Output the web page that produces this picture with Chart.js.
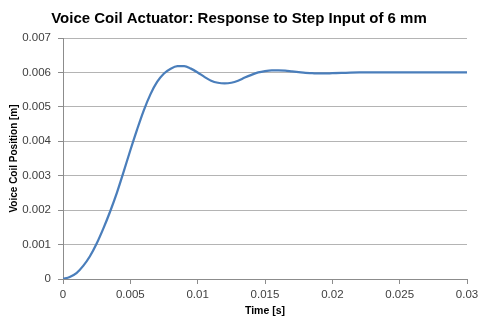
<!DOCTYPE html>
<html>
<head>
<meta charset="utf-8">
<script src="https://cdn.jsdelivr.net/npm/chart.js@4/dist/chart.umd.min.js"></script>
<style>
  html, body { margin: 0; padding: 0; background: #fff; }
  #wrap { width: 478px; height: 320px; }
</style>
</head>
<body>
<div id="wrap"><canvas id="myChart" width="478" height="320"></canvas></div>
<script>
// time in seconds, position in metres
const timeVals = [
  0, 0.0005, 0.001, 0.0015, 0.002, 0.0025, 0.003, 0.0035, 0.004, 0.0045,
  0.005, 0.0055, 0.006, 0.0065, 0.007, 0.0075, 0.008, 0.0085, 0.009, 0.0095,
  0.01, 0.0105, 0.011, 0.0115, 0.012, 0.0125, 0.013, 0.0135, 0.014, 0.0145,
  0.015, 0.0155, 0.016, 0.0165, 0.017, 0.0175, 0.018, 0.0185, 0.019, 0.0195,
  0.02, 0.021, 0.022, 0.023, 0.024, 0.025, 0.026, 0.027, 0.028, 0.029, 0.03
];
const positionVals = [
  0, 0.00006, 0.00017, 0.00038, 0.00066, 0.00103, 0.00147, 0.00196, 0.0025, 0.00311,
  0.00374, 0.00434, 0.0049, 0.00537, 0.00573, 0.00597, 0.00611, 0.00618, 0.00618, 0.00611,
  0.006, 0.00587, 0.00576, 0.0057, 0.00568, 0.0057, 0.00576, 0.00585, 0.00593, 0.006,
  0.00604, 0.00606, 0.00606, 0.00605, 0.00603, 0.00601, 0.00599, 0.00598, 0.00597, 0.00597,
  0.00598, 0.00599, 0.006, 0.006, 0.006, 0.006, 0.006, 0.006, 0.006, 0.006, 0.006
];
const xTicks = [0, 0.005, 0.01, 0.015, 0.02, 0.025, 0.03];
const yTicks = [0, 0.001, 0.002, 0.003, 0.004, 0.005, 0.006, 0.007];

const points = timeVals.map((t, i) => ({ x: t, y: positionVals[i] }));

const FONT = "'Liberation Sans', Arial, sans-serif";
const AXIS_COLOR = '#8c8c8c';
const GRID_COLOR = '#b4b4b4';

const fmt = v => String(+Number(v).toFixed(4));

const ctx = document.getElementById('myChart');

new Chart(ctx, {
  type: 'line',
  data: {
    datasets: [{
      data: points,
      borderColor: '#4a7ebb',
      borderWidth: 2.25,
      pointRadius: 0,
      fill: false,
      cubicInterpolationMode: 'monotone',
    }],
  },
  options: {
    responsive: false,
    animation: false,
    layout: { padding: { left: 0, right: 0, top: 0, bottom: 0 } },
    plugins: {
      legend: { display: false },
      tooltip: { enabled: false },
      title: {
        display: true,
        text: 'Voice Coil Actuator: Response to Step Input of 6 mm',
        color: '#000',
        font: { family: FONT, size: 15, weight: 'bold' },
        padding: { top: 10, bottom: 10 },
      },
    },
    scales: {
      x: {
        type: 'linear',
        min: 0,
        max: 0.03,
        afterBuildTicks: s => { s.ticks = xTicks.map(v => ({ value: v })); },
        afterFit: s => { s.height = 41; s.paddingRight = 11; },
        border: { display: true, color: AXIS_COLOR, width: 1 },
        grid: { drawOnChartArea: false, drawTicks: true, tickLength: 5, tickColor: AXIS_COLOR },
        ticks: {
          color: '#404040',
          font: { family: FONT, size: 11.5 },
          padding: 4,
          maxRotation: 0,
          callback: fmt,
        },
        title: {
          display: true,
          text: 'Time [s]',
          color: '#000',
          font: { family: FONT, size: 10.5, weight: 'bold' },
          padding: { top: 0, bottom: 3 },
        },
      },
      y: {
        type: 'linear',
        min: 0,
        max: 0.007,
        afterBuildTicks: s => { s.ticks = yTicks.map(v => ({ value: v })); },
        afterFit: s => { s.width = 63; },
        border: { display: true, color: AXIS_COLOR, width: 1 },
        grid: { color: GRID_COLOR, lineWidth: 1, drawTicks: true, tickLength: 5, tickColor: AXIS_COLOR },
        ticks: {
          color: '#404040',
          font: { family: FONT, size: 11.5 },
          padding: 7,
          callback: fmt,
        },
        title: {
          display: true,
          text: 'Voice Coil Position [m]',
          color: '#000',
          font: { family: FONT, size: 10, weight: 'bold' },
          padding: { top: 8, bottom: 0 },
        },
      },
    },
  },
});
</script>
</body>
</html>
